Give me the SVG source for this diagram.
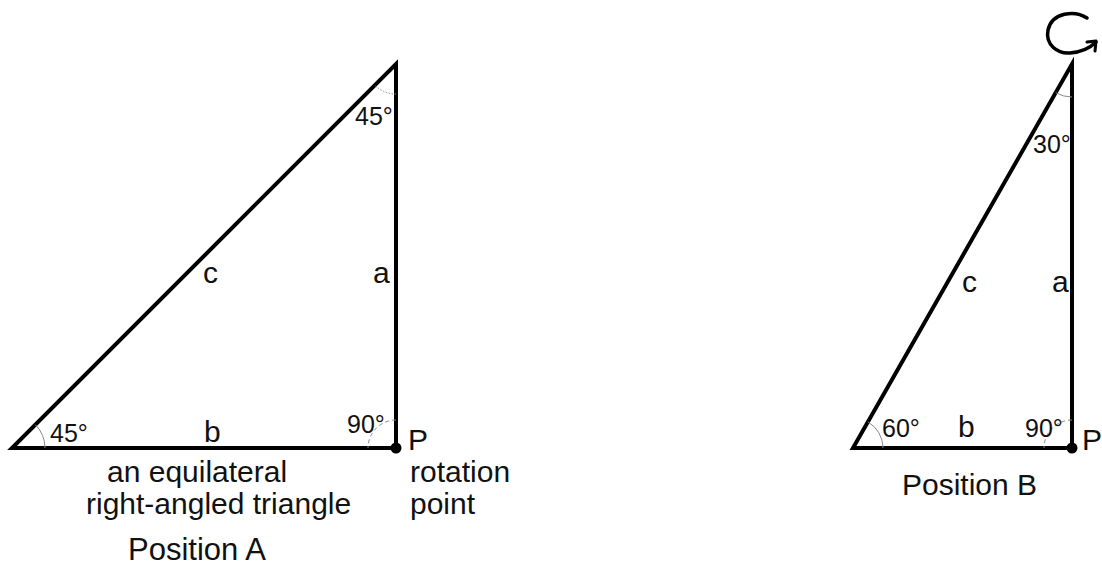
<svg xmlns="http://www.w3.org/2000/svg" width="1102" height="568" viewBox="0 0 1102 568">
  <style>
    .edge { fill: none; stroke: #000; stroke-width: 4; stroke-linejoin: miter; stroke-linecap: square; }
    .arc { fill: none; stroke: #888; stroke-width: 1; }
    .dot { stroke-dasharray: 1.5 1.5; }
    .dash { stroke-dasharray: 4 3; }
    text { font-family: "Liberation Sans", Arial, sans-serif; fill: #111; }
    .lbl { font-size: 30px; }
    .ang { font-size: 25px; }
  </style>
  <rect width="1102" height="568" fill="#fff"/>

  <g id="triangle-a">
    <polygon class="edge" points="12,448 396,448 396,64"/>
    <circle cx="396" cy="448" r="5.5" fill="#000"/>
    <path class="arc" d="M45,448 A33,33 0 0 0 35.3,424.7"/>
    <path class="arc dot" d="M396,94 A30,30 0 0 1 374.8,85.2"/>
    <path class="arc dash" d="M396,420 A28,28 0 0 0 368,448"/>
    <text class="ang" x="355" y="125">45°</text>
    <text class="ang" x="50" y="442">45°</text>
    <text class="ang" x="347" y="433">90°</text>
    <text class="lbl" x="204" y="442">b</text>
    <text class="lbl" x="203" y="283">c</text>
    <text class="lbl" x="373" y="283">a</text>
    <text class="lbl" x="408" y="450">P</text>
    <text class="lbl" x="410" y="482">rotation</text>
    <text class="lbl" x="410" y="514">point</text>
    <text class="lbl" x="107" y="482">an equilateral</text>
    <text class="lbl" x="86" y="514">right-angled triangle</text>
    <text class="lbl" x="128" y="560" style="font-size:31px">Position A</text>
  </g>

  <g id="triangle-b">
    <polygon class="edge" points="853,448 1072,448 1072,64"/>
    <circle cx="1072" cy="448" r="5.5" fill="#000"/>
    <path class="arc" d="M883,448 A30,30 0 0 0 867.9,421.9"/>
    <path class="arc" d="M1072,97 A33,33 0 0 1 1055.7,92.7"/>
    <path class="arc dash" d="M1072,420 A28,28 0 0 0 1044,448"/>
    <text class="ang" x="1033" y="153">30°</text>
    <text class="ang" x="882" y="437">60°</text>
    <text class="ang" x="1025" y="437">90°</text>
    <text class="lbl" x="958" y="437">b</text>
    <text class="lbl" x="962" y="292">c</text>
    <text class="lbl" x="1052" y="292">a</text>
    <text class="lbl" x="1082" y="450">P</text>
    <text class="lbl" x="902" y="495">Position B</text>
  </g>

  <g id="rotation-arrow">
    <path d="M1087,18 C1075,10 1052,12 1048,30 C1045,45 1058,54 1070,53 C1082,52 1090,48 1096,42" fill="none" stroke="#000" stroke-width="3.5" stroke-linecap="round"/>
    <path d="M1087,42 L1096,41 L1095,51" fill="none" stroke="#000" stroke-width="3" stroke-linecap="round" stroke-linejoin="round"/>
  </g>
</svg>
